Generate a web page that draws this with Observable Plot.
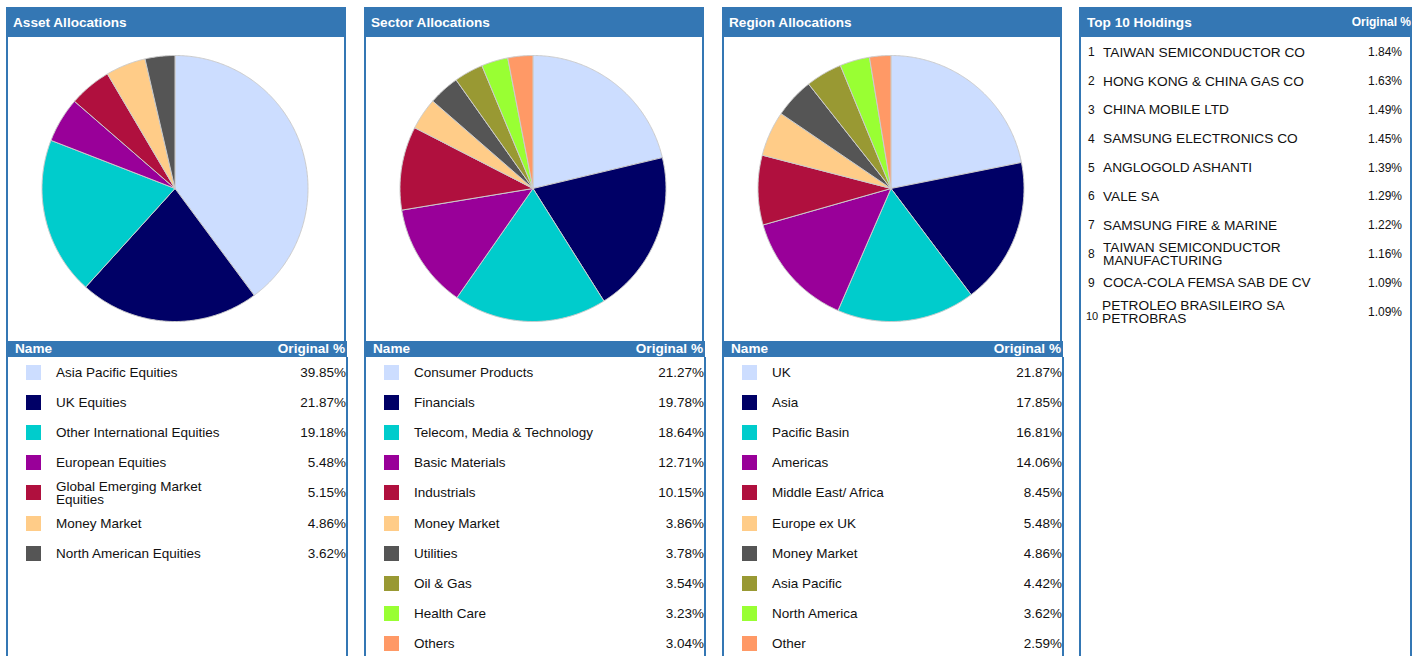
<!DOCTYPE html>
<html><head><meta charset="utf-8">
<script src="https://cdn.jsdelivr.net/npm/d3@7"></script>
<script src="https://cdn.jsdelivr.net/npm/@observablehq/plot@0.6"></script>
<style>
body{margin:0;background:#fff;font-family:Arial,"Liberation Sans",sans-serif;color:#111;}
#root{position:relative;width:1422px;height:656px;overflow:hidden;}
.abs{position:absolute;box-sizing:border-box;}
.hdr{top:7px;height:30px;background:#3477b4;color:#fff;font-weight:bold;font-size:13.6px;line-height:31px;padding-left:7px;}
.box{border-left:2px solid #3477b4;border-right:2px solid #3477b4;}
.thdr{top:341px;height:16px;background:#3477b4;color:#fff;font-weight:bold;font-size:13.6px;line-height:16px;}
.row{display:flex;align-items:center;font-size:13.5px;}
.sw{width:15px;height:15px;}
.nm{line-height:13px;}
.val{text-align:right;}
</style>
</head><body><div id="root"></div>
<script>
const palette = ["#ccddff","#000066","#00cccc","#990099","#b0103e","#ffcc88","#555555","#999933","#99ff33","#ff9966"];

const assetNames = ["Asia Pacific Equities","UK Equities","Other International Equities","European Equities","Global Emerging Market Equities","Money Market","North American Equities"];
const assetValues = [39.85,21.87,19.18,5.48,5.15,4.86,3.62];

const sectorNames = ["Consumer Products","Financials","Telecom, Media & Technology","Basic Materials","Industrials","Money Market","Utilities","Oil & Gas","Health Care","Others"];
const sectorValues = [21.27,19.78,18.64,12.71,10.15,3.86,3.78,3.54,3.23,3.04];

const regionNames = ["UK","Asia","Pacific Basin","Americas","Middle East/ Africa","Europe ex UK","Money Market","Asia Pacific","North America","Other"];
const regionValues = [21.87,17.85,16.81,14.06,8.45,5.48,4.86,4.42,3.62,2.59];

const holdingNames = ["TAIWAN SEMICONDUCTOR CO","HONG KONG & CHINA GAS CO","CHINA MOBILE LTD","SAMSUNG ELECTRONICS CO","ANGLOGOLD ASHANTI","VALE SA","SAMSUNG FIRE & MARINE","TAIWAN SEMICONDUCTOR MANUFACTURING","COCA-COLA FEMSA SAB DE CV","PETROLEO BRASILEIRO SA PETROBRAS"];
const holdingValues = [1.84,1.63,1.49,1.45,1.39,1.29,1.22,1.16,1.09,1.09];

const panels = [
  {title:"Asset Allocations", names:assetNames, values:assetValues, left:6},
  {title:"Sector Allocations", names:sectorNames, values:sectorValues, left:364},
  {title:"Region Allocations", names:regionNames, values:regionValues, left:722}
];

const root = document.getElementById("root");
function el(cls, css, html){
  const d = document.createElement("div");
  d.className = "abs " + cls;
  Object.assign(d.style, css);
  if (html !== undefined) d.innerHTML = html;
  root.appendChild(d);
  return d;
}

function slices(names, values){
  const arcs = d3.pie().sort(null).value(d => d)(values);
  const pts = [];
  arcs.forEach((a, i) => {
    const n = Math.max(2, Math.ceil((a.endAngle - a.startAngle) / 0.01));
    pts.push({k: names[i], c: palette[i], x: 0, y: 0});
    for (let j = 0; j <= n; j++) {
      const t = a.startAngle + (a.endAngle - a.startAngle) * j / n;
      pts.push({k: names[i], c: palette[i], x: Math.sin(t), y: Math.cos(t)});
    }
    pts.push({k: names[i], c: palette[i], x: 0, y: 0});
  });
  return pts;
}

panels.forEach(p => {
  el("hdr", {left: p.left + "px", width: "340px"}, p.title);
  const box = el("box", {left: p.left + "px", top: "37px", width: "340px", height: "304px"});
  const chart = Plot.plot({
    width: 336, height: 302,
    marginLeft: 33.5, marginRight: 36.5, marginTop: 18, marginBottom: 18,
    x: {domain: [-1, 1], axis: null},
    y: {domain: [-1, 1], axis: null},
    color: {type: "identity"},
    style: {background: "transparent"},
    marks: [
      Plot.line(slices(p.names, p.values), {x: "x", y: "y", z: "k", fill: "c", stroke: "#cccccc", strokeWidth: 1})
    ]
  });
  chart.style.display = "block";
  box.appendChild(chart);
  const th = el("thdr", {left: p.left + "px", width: "341px"});
  th.innerHTML = '<span style="position:absolute;left:9px">Name</span><span style="position:absolute;right:2px">Original %</span>';
  el("box", {left: p.left + "px", top: "357px", width: "342px", height: "299px"});
  p.names.forEach((nm, i) => {
    const r = el("row", {left: p.left + "px", top: (357 + i * 30.2) + "px", width: "340px", height: "30.2px"});
    r.innerHTML = `<div class="sw" style="background:${palette[i]};margin-left:20px"></div>` +
      `<div class="nm" style="margin-left:15px;width:185px">${nm.replace(/&/g,"&amp;")}</div>` +
      `<div class="val" style="flex:1">${p.values[i].toFixed(2)}%</div>`;
  });
});

// Top 10 holdings
const hl = 1079;
const hh = el("hdr", {left: hl + "px", width: "333px", paddingLeft: "8px"});
hh.innerHTML = 'Top 10 Holdings<span style="position:absolute;right:1px;font-size:12px">Original %</span>';
el("box", {left: hl + "px", top: "37px", width: "333px", height: "619px"});
holdingNames.forEach((nm, i) => {
  const r = el("row", {left: hl + "px", top: (38 + i * 28.8) + "px", width: "333px", height: "28.8px"});
  const numStyle = i === 9 ? "font-size:11px;margin-top:8px;margin-left:7px;width:16px" : "font-size:12px;margin-left:9px;width:15px";
  r.innerHTML = `<div style="${numStyle}">${i + 1}</div>` +
    `<div class="nm" style="width:225px;font-size:13.7px">${nm.replace(/&/g,"&amp;")}</div>` +
    `<div class="val" style="flex:1;font-size:12px;padding-right:10px">${holdingValues[i].toFixed(2)}%</div>`;
});
</script>
</body></html>
